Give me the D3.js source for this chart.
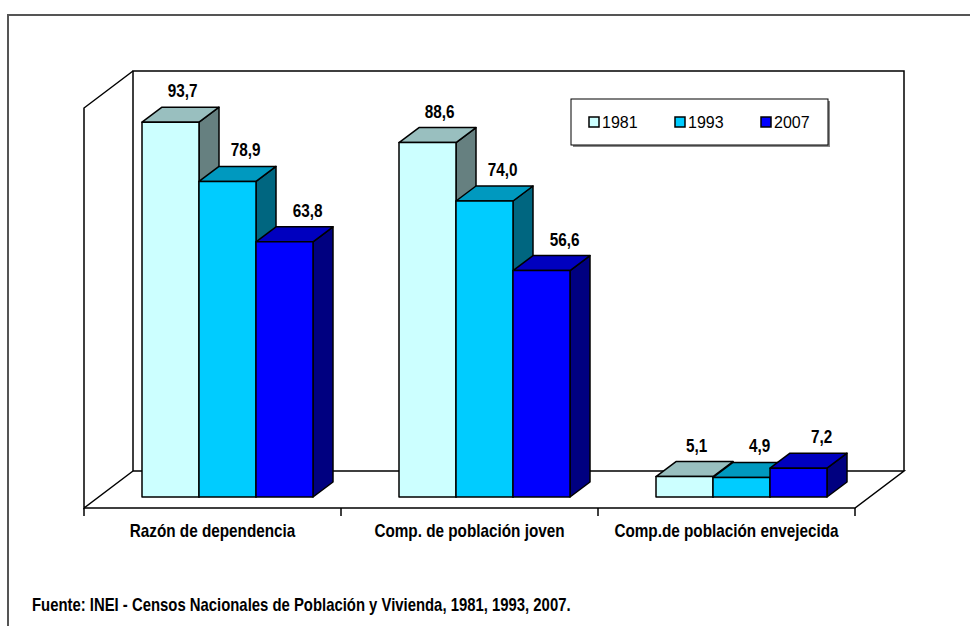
<!DOCTYPE html>
<html>
<head>
<meta charset="utf-8">
<script src="https://cdnjs.cloudflare.com/ajax/libs/d3/7.8.5/d3.min.js"></script>
<style>
  body { margin: 0; background: #fff; }
  text { font-family: "Liberation Sans", Arial, sans-serif; }
  .bold { font-weight: bold; }
</style>
</head>
<body>
<div id="svg"></div>
<script>
const categories = ['Razón de dependencia', 'Comp. de población joven', 'Comp.de población envejecida'];
const years = ['1981', '1993', '2007'];
const values1981 = [93.7, 88.6, 5.1];
const values1993 = [78.9, 74.0, 4.9];
const values2007 = [63.8, 56.6, 7.2];
const fronts = ['#CCFFFF', '#00CCFF', '#0000FF'];
const tops = ['#99BFBF', '#0099BF', '#0000BF'];
const sides = ['#668080', '#006680', '#000080'];
const source = 'Fuente: INEI - Censos Nacionales de Población y Vivienda, 1981, 1993, 2007.';

function makeGraph(){
  let w = 970;
  let h = 626;
  let series = [values1981, values1993, values2007];
  // condensed look for the bold labels
  let narrow = 0.85;

  let svg = d3.select('#svg').append('svg').attr('width', w).attr('height', h);

  // outer frame (only left/top visible)
  svg.append('path')
    .attr('d', `M8,${h} L8,15 L${w},15`)
    .attr('fill', 'none').attr('stroke', '#555').attr('stroke-width', 2);

  let xScale = d3.scaleBand().domain(categories).range([84, 855]);
  let yScale = d3.scaleLinear().domain([0, 100]).range([508, 108]);
  let inner = d3.scaleBand().domain(years)
    .range([43, xScale.bandwidth() - 43]);

  // depth of the plot box and of the bars
  let dX = 49, dY = -37;
  let bOffX = 15, bOffY = -11;
  let bdX = 20, bdY = -15;
  let labelShift = [12, 18, 23];

  let x0 = xScale.range()[0], x1 = xScale.range()[1];
  let y0 = yScale(0), yTop = yScale(100);

  let walls = svg.append('g').attr('fill', 'none').attr('stroke', '#000').attr('stroke-width', 1.5);
  // back wall
  walls.append('path')
    .attr('d', `M${x0 + dX},${y0 + dY} L${x0 + dX},${yTop + dY} L${x1 + dX},${yTop + dY} L${x1 + dX},${y0 + dY}`);
  // side wall
  walls.append('path')
    .attr('d', `M${x0 + dX},${yTop + dY} L${x0},${yTop} L${x0},${y0} L${x0 + dX},${y0 + dY}`);
  // floor
  walls.append('path')
    .attr('d', `M${x0 + dX},${y0 + dY} L${x1 + dX},${y0 + dY} L${x1},${y0} L${x0},${y0}`);
  // ticks at category boundaries
  let bounds = categories.map(c => xScale(c)).concat([x1]);
  walls.selectAll('line.tick').data(bounds).enter().append('line')
    .attr('x1', d => d).attr('x2', d => d)
    .attr('y1', y0).attr('y2', y0 + 8);

  // bars
  let barG = svg.append('g').attr('stroke', '#000').attr('stroke-width', 1.5).attr('stroke-linejoin', 'round');
  categories.forEach((cat, ci) => {
    years.forEach((yr, si) => {
      let v = series[si][ci];
      let xl = xScale(cat) + inner(yr) + bOffX;
      let xr = xl + inner.bandwidth();
      let yb = y0 + bOffY;
      let yt = yScale(v) + bOffY;
      barG.append('path').attr('fill', sides[si])
        .attr('d', `M${xr},${yb} L${xr},${yt} L${xr + bdX},${yt + bdY} L${xr + bdX},${yb + bdY} Z`);
      barG.append('path').attr('fill', tops[si])
        .attr('d', `M${xl},${yt} L${xl + bdX},${yt + bdY} L${xr + bdX},${yt + bdY} L${xr},${yt} Z`);
      barG.append('rect').attr('fill', fronts[si])
        .attr('x', xl).attr('y', yt).attr('width', xr - xl).attr('height', yb - yt);
      svg.append('text').classed('bold', true)
        .attr('transform', `translate(${(xl + xr) / 2 + labelShift[si]}, ${yt + bdY - 10}) scale(${narrow},1)`)
        .attr('text-anchor', 'middle')
        .style('font-size', '18px')
        .text(d3.format('.1f')(v).replace('.', ','));
    });
  });

  // category labels
  let xAxis = d3.axisBottom(xScale).tickSize(0).tickPadding(0);
  let xAxisGroup = svg.append('g')
    .attr('transform', `translate(0, ${y0})`)
    .call(xAxis);
  xAxisGroup.select('.domain').remove();
  xAxisGroup.selectAll('text')
    .attr('y', 0)
    .attr('dy', 0)
    .attr('transform', `translate(0, 29) scale(${narrow},1)`)
    .attr('fill', '#000')
    .style('font-size', '18px')
    .style('font-weight', 'bold')
    .style('font-family', '"Liberation Sans", Arial, sans-serif');

  // legend
  let lg = svg.append('g').attr('transform', 'translate(571, 99)');
  lg.append('rect').attr('x', 2).attr('y', 2).attr('width', 257).attr('height', 46).attr('fill', '#888');
  lg.append('rect').attr('width', 257).attr('height', 46).attr('fill', '#fff').attr('stroke', '#000').attr('stroke-width', 1);
  years.forEach((yr, i) => {
    let g = lg.append('g').attr('transform', `translate(${18 + i * 86}, 18)`);
    g.append('rect').attr('width', 10).attr('height', 10)
      .attr('fill', fronts[i]).attr('stroke', '#000').attr('stroke-width', 1.5);
    g.append('text').attr('x', 13).attr('y', 10.5)
      .style('font-size', '16px')
      .text(yr);
  });

  // source note
  svg.append('text').classed('bold', true)
    .attr('transform', `translate(32, 611) scale(${narrow},1)`)
    .style('font-size', '17.5px')
    .text(source);
}

window.onload = function(){
  makeGraph();
}
</script>
</body>
</html>
